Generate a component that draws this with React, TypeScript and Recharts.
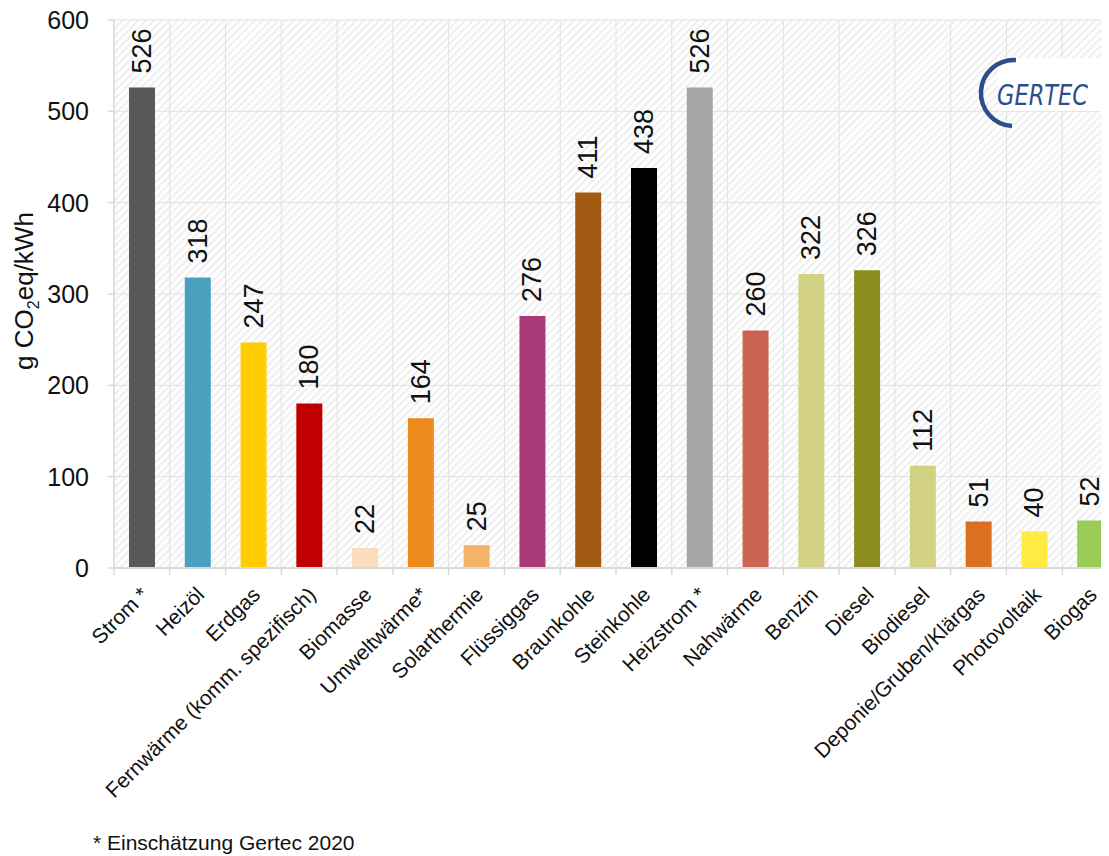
import React from 'react';
import { BarChart, Bar, XAxis, YAxis, CartesianGrid, Cell, LabelList, Label } from 'recharts';

const categories = [
  'Strom *', 'Heizöl', 'Erdgas', 'Fernwärme (komm. spezifisch)', 'Biomasse', 'Umweltwärme*',
  'Solarthermie', 'Flüssiggas', 'Braunkohle', 'Steinkohle', 'Heizstrom *', 'Nahwärme',
  'Benzin', 'Diesel', 'Biodiesel', 'Deponie/Gruben/Klärgas', 'Photovoltaik', 'Biogas',
];
const values = [526, 318, 247, 180, 22, 164, 25, 276, 411, 438, 526, 260, 322, 326, 112, 51, 40, 52];
const colors = [
  '#595959', '#4BA0C0', '#FFCC00', '#C00000', '#FBDDBE', '#EC8A1B',
  '#F3B467', '#AA3A7A', '#A05A12', '#000000', '#A6A6A6', '#CC6452',
  '#D3D283', '#8C8C1E', '#D3D283', '#DB7020', '#FFEB44', '#99CC55',
];
const yTicks = [0, 100, 200, 300, 400, 500, 600];
const footnote = '* Einschätzung Gertec 2020';
const yLabelMain = 'g CO';
const yLabelSub = '2';
const yLabelRest = 'eq/kWh';
const logoText = 'GERTEC';

const data = categories.map((name, i) => ({ name, value: values[i], color: colors[i] }));

const W = 1110;
const H = 848;
const MARGIN = { top: 12, right: 0, left: 0, bottom: 0 };
const Y_W = 106;
const X_H = 288;
const PLOT_W = W - Y_W - MARGIN.right;
const BAND = PLOT_W / categories.length;
const FONT = 'Liberation Sans, Arial, Helvetica, sans-serif';

const XTick = (props: any) => {
  const { x, y, payload } = props;
  const ax = Number(x) + 8;
  const ay = Number(y) + 19;
  return (
    <text x={ax} y={ay} transform={`rotate(-45, ${ax}, ${ay})`} textAnchor="end"
      fontSize={21} fill="#111" fontFamily={FONT}>
      {payload.value}
    </text>
  );
};

const BarLabel = (props: any) => {
  const { x, y, width, value } = props;
  const cx = Number(x) + Number(width) / 2;
  const ty = Number(y) - 14;
  return (
    <text x={cx} y={ty} transform={`rotate(-90, ${cx}, ${ty})`} textAnchor="start"
      dominantBaseline="central" fontSize={27} fill="#111" fontFamily={FONT}>
      {value}
    </text>
  );
};

const YLabel = (props: any) => {
  const vb = props.viewBox || {};
  const lx = Number(vb.x) + 25;
  const ly = Number(vb.y) + Number(vb.height) / 2 - 3;
  return (
    <text x={lx} y={ly} transform={`rotate(-90, ${lx}, ${ly})`} textAnchor="middle"
      fontSize={26} fill="#111" fontFamily={FONT}>
      <tspan>{yLabelMain}</tspan>
      <tspan fontSize={16} dy={6}>{yLabelSub}</tspan>
      <tspan dy={-6}>{yLabelRest}</tspan>
    </text>
  );
};

export default function App() {
  return (
    <div style={{ position: 'relative', width: W, height: H }}>
      <style>{'svg.recharts-surface { overflow: visible; }'}</style>
      <BarChart width={W} height={H} data={data} margin={MARGIN}>
        <defs>
          <pattern id="hatch" patternUnits="userSpaceOnUse" width="5.5" height="5.5" patternTransform="rotate(45)">
            <rect x="0" y="0" width="5.5" height="5.5" fill="#ffffff" />
            <line x1="2" y1="0" x2="2" y2="5.5" stroke="#efefef" strokeWidth="2" />
          </pattern>
        </defs>
        <CartesianGrid
          stroke="#e2e2e2"
          fill="url(#hatch)"
          fillOpacity={1}
          verticalCoordinatesGenerator={({ offset }: any) =>
            categories.map((_, i) => offset.left + (i + 1) * (offset.width / categories.length))
          }
        />
        <XAxis
          dataKey="name"
          interval={0}
          height={X_H}
          tickSize={7}
          tick={<XTick />}
          axisLine={{ stroke: '#d9d9d9', strokeWidth: 2 }}
          tickLine={{ stroke: '#d9d9d9', strokeWidth: 1.5, transform: `translate(${-BAND / 2}, 0)` }}
        />
        <YAxis
          width={Y_W}
          domain={[0, 600]}
          ticks={yTicks}
          interval={0}
          tickSize={6}
          tickMargin={19}
          axisLine={{ stroke: '#d9d9d9', strokeWidth: 1.5 }}
          tickLine={{ stroke: '#d9d9d9', strokeWidth: 1.5 }}
          tick={{ fontSize: 25, fill: '#111', fontFamily: FONT }}
        >
          <Label content={<YLabel />} />
        </YAxis>
        <Bar dataKey="value" barSize={26} isAnimationActive={false}>
          {data.map((d, i) => (
            <Cell key={i} fill={d.color} />
          ))}
          <LabelList dataKey="value" content={<BarLabel />} />
        </Bar>
      </BarChart>
      <svg width={W} height={H} style={{ position: 'absolute', left: 0, top: 0, pointerEvents: 'none', overflow: 'visible' }}>
        <rect x={990} y={50} width={122} height={53} fill="#ffffff" />
        <path d="M 1008 52 A 33 33 0 1 0 1004 118" fill="none" stroke="#2D4E8C" strokeWidth={4.5} />
        <text x={989} y={97} fontSize={29} fontStyle="italic" fill="#2D4E8C"
          fontFamily="Liberation Sans Narrow, DejaVu Sans Condensed, Arial Narrow, sans-serif"
          textLength={91} lengthAdjust="spacingAndGlyphs">{logoText}</text>
        <text x={85} y={842} fontSize={21} fill="#111" fontFamily={FONT}>{footnote}</text>
      </svg>
    </div>
  );
}
